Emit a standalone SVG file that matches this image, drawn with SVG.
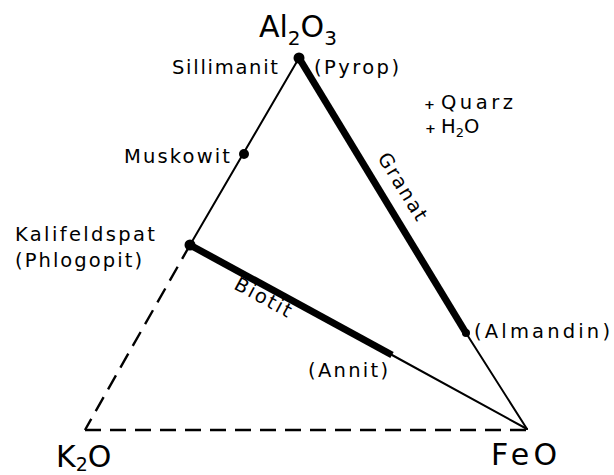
<svg xmlns="http://www.w3.org/2000/svg" width="614" height="475" viewBox="0 0 614 475">
<style>
text{font-family:"DejaVu Sans","Liberation Sans",sans-serif;fill:#000}
.lb{font-size:19.5px}
.big{font-size:30px}
.thin{stroke:#000;stroke-width:2;fill:none;stroke-linecap:round}
.thick{stroke:#000;stroke-width:7;fill:none;stroke-linecap:butt}
.dash{stroke:#000;stroke-width:2.4;fill:none;stroke-dasharray:16 9}
.dot{fill:#000}
</style>
<rect width="614" height="475" fill="#fff"/>
<g id="connectors">
<line class="thin" x1="299" y1="58" x2="190" y2="245"/>
<line class="dash" x1="190" y1="245" x2="85" y2="430"/>
<line class="dash" x1="85" y1="430" x2="527" y2="430"/>
<line class="thick" x1="299" y1="58" x2="466" y2="333"/>
<line class="thin" x1="466" y1="333" x2="527" y2="429"/>
<line class="thick" x1="190" y1="245" x2="392" y2="355"/>
<line class="thin" x1="392" y1="355" x2="527" y2="429"/>
<text class="lb" transform="translate(397,190) rotate(58.4)" text-anchor="middle" textLength="76" lengthAdjust="spacing">Granat</text>
<text class="lb" transform="translate(260,303) rotate(28.6)" text-anchor="middle" textLength="62" lengthAdjust="spacing">Biotit</text>
</g>
<g id="al2o3">
<circle class="dot" cx="299" cy="58" r="5.5"/>
<text class="big" x="259" y="37">Al<tspan font-size="20" dy="8">2</tspan><tspan dy="-8">O</tspan><tspan font-size="20" dy="8">3</tspan></text>
<text class="lb" x="172" y="74" textLength="106" lengthAdjust="spacing">Sillimanit</text>
<text class="lb" x="314" y="74" textLength="85" lengthAdjust="spacing">(Pyrop)</text>
</g>
<g id="muskowit">
<circle class="dot" cx="244" cy="154" r="5"/>
<text class="lb" x="124" y="163" textLength="106" lengthAdjust="spacing">Muskowit</text>
</g>
<g id="kalifeldspat">
<circle class="dot" cx="190" cy="245" r="5.5"/>
<text class="lb" x="15" y="241" textLength="140" lengthAdjust="spacing">Kalifeldspat</text>
<text class="lb" x="15" y="267" textLength="127" lengthAdjust="spacing">(Phlogopit)</text>
</g>
<g id="almandin">
<circle class="dot" cx="466" cy="333" r="4"/>
<text class="lb" x="474" y="338" textLength="136" lengthAdjust="spacing">(Almandin)</text>
</g>
<g id="annit">
<text class="lb" x="308" y="377" textLength="80" lengthAdjust="spacing">(Annit)</text>
</g>
<g id="extra">
<text x="424" y="109" font-size="13" font-weight="bold">+</text>
<text class="lb" x="441" y="109" textLength="72" lengthAdjust="spacing">Quarz</text>
<text x="425" y="133" font-size="13" font-weight="bold">+</text>
<text class="lb" x="441" y="133">H<tspan font-size="13" dy="4">2</tspan><tspan dy="-4">O</tspan></text>
</g>
<g id="k2o">
<text class="big" x="56" y="467">K<tspan font-size="19" dy="4">2</tspan><tspan dy="-4">O</tspan></text>
</g>
<g id="feo">
<text class="big" x="491" y="465" textLength="66" lengthAdjust="spacing">FeO</text>
</g>
</svg>
